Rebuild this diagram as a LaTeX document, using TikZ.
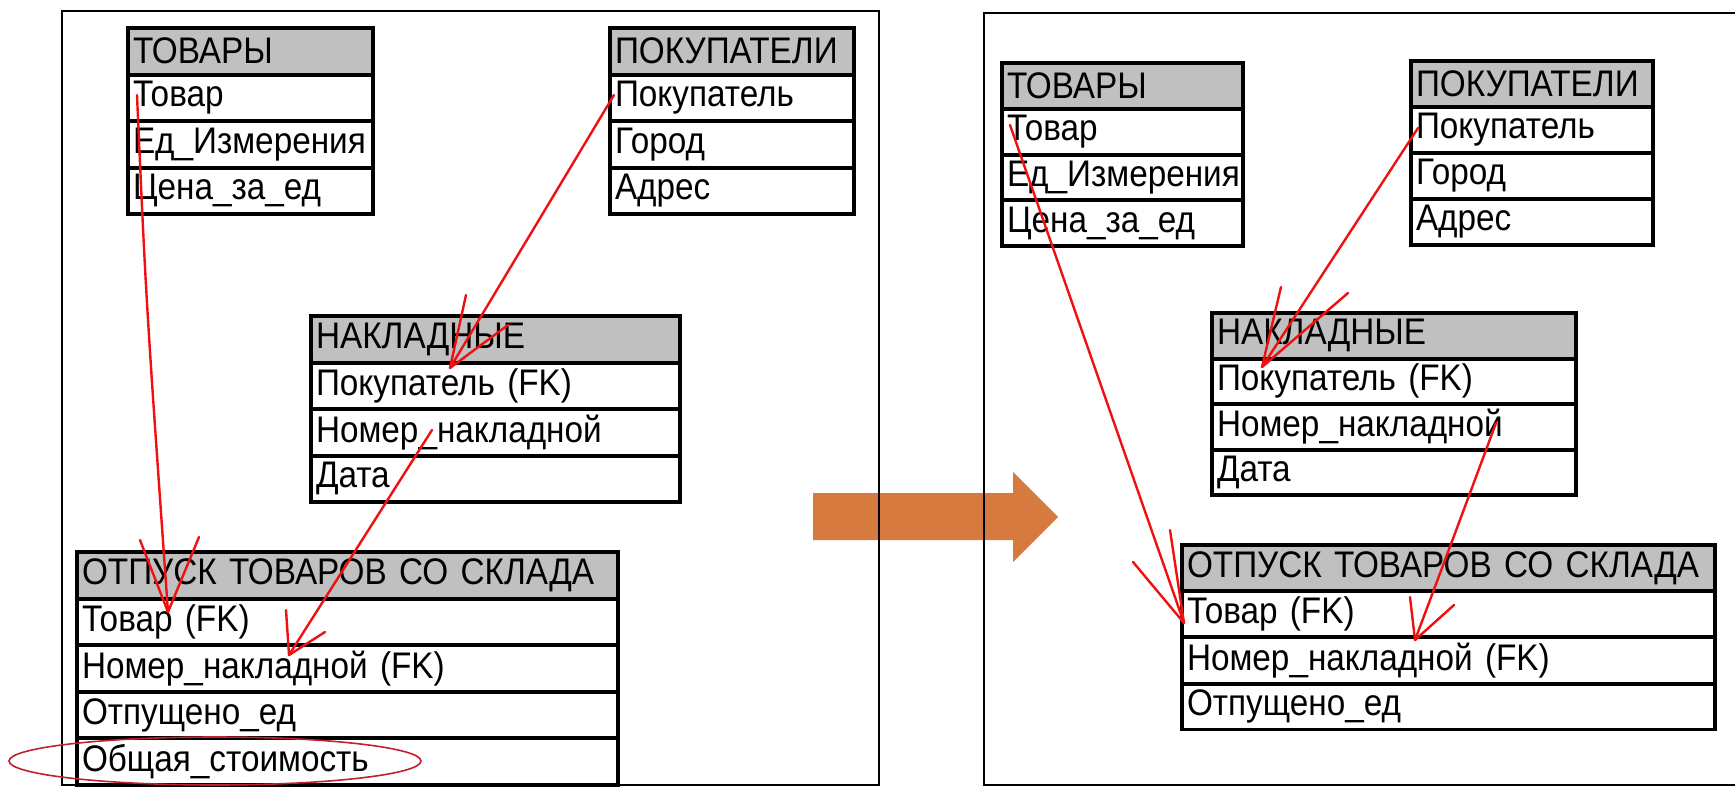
\documentclass[tikz,border=0pt]{standalone}
\usepackage{fontspec}
\setmainfont{Liberation Sans}[FakeStretch=0.9]
\usetikzlibrary{calc}
\definecolor{hdrgray}{HTML}{C0C0C0}
\definecolor{arroworange}{HTML}{D77A3F}
\definecolor{penred}{HTML}{F01010}
\definecolor{ellred}{HTML}{C02030}
\begin{document}
\begin{tikzpicture}[x=0.5pt,y=-0.5pt,
 cell/.style={draw=black, line width=1pt, anchor=north west, inner xsep=2pt, inner ysep=0pt, align=left, font=\fontsize{18.5}{20}\selectfont, minimum height=#1},
 hdr/.style={cell=#1, fill=hdrgray},
 frame/.style={draw=black, line width=1pt},
 outline/.style={draw=black, line width=1.6pt},
 pen/.style={draw=penred, line width=1.2pt, line cap=round, line join=round},
 oval/.style={draw=ellred, line width=0.8pt},
 bigarrow/.style={fill=arroworange}
]
\useasboundingbox (0,0) rectangle (1735,787);

% orange arrow
\fill[bigarrow] (813,493) -- (1013,493) -- (1013,472) -- (1058,517) -- (1013,562) -- (1013,540) -- (813,540) -- cycle;

% frames
\draw[frame] (62,11) rectangle (879,785);
\draw[frame] (1745,13) -- (984,13) -- (984,785) -- (1745,785);

% ---------- left side ----------
\node[hdr=22.25pt, text width=117.5pt] (lT0) at (128,28) {ТОВАРЫ};
\node[cell=22.25pt, text width=117.5pt] (lT1) at (lT0.south west) {Товар};
\node[cell=22.25pt, text width=117.5pt] (lT2) at (lT1.south west) {Ед\_Измерения};
\node[cell=22.25pt, text width=117.5pt] (lT3) at (lT2.south west) {Цена\_за\_ед};
\draw[outline] (lT0.north west) rectangle (lT3.south east);

\node[hdr=22.25pt, text width=117pt] (lP0) at (610,28) {ПОКУПАТЕЛИ};
\node[cell=22.25pt, text width=117pt] (lP1) at (lP0.south west) {Покупатель};
\node[cell=22.25pt, text width=117pt] (lP2) at (lP1.south west) {Город};
\node[cell=22.25pt, text width=117pt] (lP3) at (lP2.south west) {Адрес};
\draw[outline] (lP0.north west) rectangle (lP3.south east);

\node[hdr=22.25pt, text width=179.5pt] (lN0) at (311,316) {НАКЛАДНЫЕ};
\node[cell=22.25pt, text width=179.5pt] (lN1) at (lN0.south west) {Покупатель (FK)};
\node[cell=22.25pt, text width=179.5pt] (lN2) at (lN1.south west) {Номер\_накладной};
\node[cell=22.25pt, text width=179.5pt] (lN3) at (lN2.south west) {Дата};
\draw[outline] (lN0.north west) rectangle (lN3.south east);

\node[hdr=22.3pt, text width=265.5pt] (lO0) at (77,552) {ОТПУСК ТОВАРОВ СО СКЛАДА};
\node[cell=22.3pt, text width=265.5pt] (lO1) at (lO0.south west) {Товар (FK)};
\node[cell=22.3pt, text width=265.5pt] (lO2) at (lO1.south west) {Номер\_накладной (FK)};
\node[cell=22.3pt, text width=265.5pt] (lO3) at (lO2.south west) {Отпущено\_ед};
\node[cell=22.3pt, text width=265.5pt] (lO4) at (lO3.south west) {Общая\_стоимость};
\draw[outline] (lO0.north west) rectangle (lO4.south east);

% ---------- right side ----------
\node[hdr=21.9pt, text width=115.5pt] (rT0) at (1002,63) {ТОВАРЫ};
\node[cell=21.9pt, text width=115.5pt] (rT1) at (rT0.south west) {Товар};
\node[cell=21.9pt, text width=115.5pt] (rT2) at (rT1.south west) {Ед\_Измерения};
\node[cell=21.9pt, text width=115.5pt] (rT3) at (rT2.south west) {Цена\_за\_ед};
\draw[outline] (rT0.north west) rectangle (rT3.south east);

\node[hdr=22pt, text width=116pt] (rP0) at (1411,61) {ПОКУПАТЕЛИ};
\node[cell=22pt, text width=116pt] (rP1) at (rP0.south west) {Покупатель};
\node[cell=22pt, text width=116pt] (rP2) at (rP1.south west) {Город};
\node[cell=22pt, text width=116pt] (rP3) at (rP2.south west) {Адрес};
\draw[outline] (rP0.north west) rectangle (rP3.south east);

\node[hdr=21.75pt, text width=177pt] (rN0) at (1212,313) {НАКЛАДНЫЕ};
\node[cell=21.75pt, text width=177pt] (rN1) at (rN0.south west) {Покупатель (FK)};
\node[cell=21.75pt, text width=177pt] (rN2) at (rN1.south west) {Номер\_накладной};
\node[cell=21.75pt, text width=177pt] (rN3) at (rN2.south west) {Дата};
\draw[outline] (rN0.north west) rectangle (rN3.south east);

\node[hdr=22.1pt, text width=261.5pt] (rO0) at (1182,545) {ОТПУСК ТОВАРОВ СО СКЛАДА};
\node[cell=22.1pt, text width=261.5pt] (rO1) at (rO0.south west) {Товар (FK)};
\node[cell=22.1pt, text width=261.5pt] (rO2) at (rO1.south west) {Номер\_накладной (FK)};
\node[cell=22.1pt, text width=261.5pt] (rO3) at (rO2.south west) {Отпущено\_ед};
\draw[outline] (rO0.north west) rectangle (rO3.south east);

% ---------- red hand-drawn arrows ----------
\coordinate (aS) at (137,95);  \coordinate (aT) at (168,612);
\coordinate (aL) at (140,540); \coordinate (aR) at (199,537);
\draw[pen] (aS) .. controls (146,300) .. (aT);
\draw[pen] (aL) -- (aT) -- (aR);

\coordinate (bS) at (614,95);  \coordinate (bT) at (450,368);
\coordinate (bL) at (466,295); \coordinate (bR) at (508,325);
\draw[pen] (bS) -- (bT);
\draw[pen] (bL) -- (bT) -- (bR);

\coordinate (cS) at (432,430); \coordinate (cT) at (289,655);
\coordinate (cL) at (286,610); \coordinate (cR) at (325,632);
\draw[pen] (cS) -- (cT);
\draw[pen] (cL) -- (cT) -- (cR);

\coordinate (dS) at (1010,125); \coordinate (dT) at (1184,623);
\coordinate (dL) at (1133,562); \coordinate (dR) at (1170,530);
\draw[pen] (dS) -- (dT);
\draw[pen] (dL) -- (dT) -- (dR);

\coordinate (eS) at (1418,128); \coordinate (eT) at (1262,367);
\coordinate (eL) at (1281,287); \coordinate (eR) at (1348,293);
\draw[pen] (eS) -- (eT);
\draw[pen] (eL) -- (eT) -- (eR);

\coordinate (fS) at (1496,423); \coordinate (fT) at (1415,640);
\coordinate (fL) at (1410,597); \coordinate (fR) at (1454,605);
\draw[pen] (fS) .. controls (1460,520) .. (fT);
\draw[pen] (fL) -- (fT) -- (fR);

% red oval
\draw[oval] (215,761) ellipse [x radius=206, y radius=24];
\end{tikzpicture}
\end{document}
